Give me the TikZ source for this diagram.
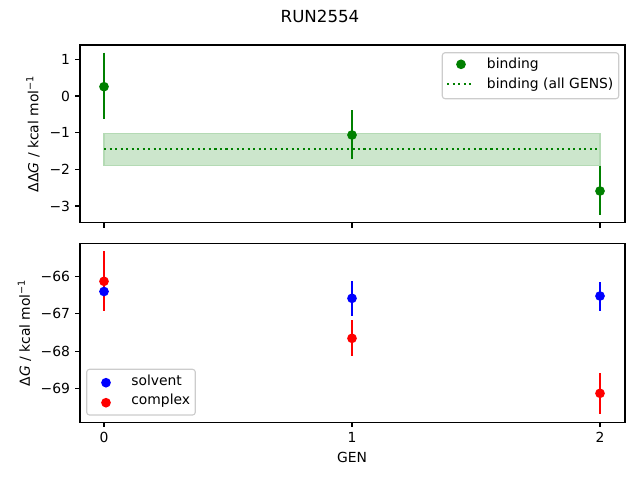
\documentclass[tikz,border=0pt]{standalone}
\usepackage{fontspec}
\setmainfont{DejaVu Sans}
\newfontfamily\dvo{DejaVu Sans Oblique}
\definecolor{mgreen}{RGB}{0,128,0}
\definecolor{mblue}{RGB}{0,0,255}
\definecolor{mred}{RGB}{255,0,0}
\definecolor{bandfill}{RGB}{204,230,204}
\definecolor{bandedge}{RGB}{180,218,180}
\definecolor{legedge}{RGB}{204,204,204}
\tikzset{
  axisframe/.style={draw=black, line width=0.8pt},
  tickmark/.style={draw=black, line width=0.8pt},
  ebar/.style={line width=1.5pt},
  mk/.style={radius=3.5pt},
  legbox/.style={draw=legedge, line width=0.8pt, fill=white, fill opacity=0.8, rounded corners=2pt},
  ylab/.style={anchor=east, inner sep=0pt, font=\fontsize{10}{12}\selectfont},
  xlab/.style={anchor=north, inner sep=0pt, font=\fontsize{10}{12}\selectfont},
  txt/.style={inner sep=0pt, font=\fontsize{10}{12}\selectfont},
}
\begin{document}
\begin{tikzpicture}[x=0.72pt, y=-0.72pt]
\useasboundingbox (0,0) rectangle (640,480);
% title
\node[txt, font=\fontsize{12}{14}\selectfont] (title) at (320,16) {RUN2554};

% ---------------- top panel ----------------
\fill[bandfill] (104,133.7) rectangle (600,165.7);
\draw[bandedge, line width=0.8pt] (104,133.7) rectangle (600,165.7);
\draw[mgreen, line width=1.5pt, dash pattern=on 1.5pt off 2.475pt] (104,148.7) -- (600,148.7);
\draw[mgreen, ebar] (104,52.7) -- (104,118.7);
\draw[mgreen, ebar] (352,110) -- (352,158.7);
\draw[mgreen, ebar] (600,165.7) -- (600,215);
\fill[mgreen] (104,86.7) circle[mk];
\fill[mgreen] (352,135) circle[mk];
\fill[mgreen] (600,191) circle[mk];
\draw[axisframe] (80,45) rectangle (625,222.7);
\foreach \v/\lab [count=\i] in {1/1,0/0,-1/{−1},-2/{−2},-3/{−3}}{
  \draw[tickmark] (80,{96-36.68*\v}) -- ++(-4.86,0);
  \node[ylab] (ytt\i) at (70.3,{96-36.68*\v}) {\lab};
}
\foreach \x in {104,352,600}{
  \draw[tickmark] (\x,222.7) -- ++(0,4.86);
}
\node[txt, rotate=90] (ylabtop) at (33,133.8) {ΔΔ{\dvo G} / kcal mol\textsuperscript{−1}};
% top legend
\draw[legbox] (442.3,52.7) rectangle (618.7,98.7);
\fill[mgreen] (461,64.3) circle[mk];
\draw[mgreen, line width=1.5pt, dash pattern=on 1.5pt off 2.475pt] (447.3,84.3) -- (472,84.3);
\node[txt, anchor=west] (legb1) at (486.7,64.3) {binding};
\node[txt, anchor=west] (legb2) at (486.7,84.3) {binding (all GENS)};

% ---------------- bottom panel ----------------
\draw[mblue, ebar] (104,276) -- (104,307);
\draw[mblue, ebar] (352,281) -- (352,315.7);
\draw[mblue, ebar] (600,282) -- (600,310.7);
\draw[mred, ebar] (104,251) -- (104,310.7);
\draw[mred, ebar] (352,320) -- (352,356);
\draw[mred, ebar] (600,373.3) -- (600,414);
\fill[mblue] (104,291.5) circle[mk];
\fill[mblue] (352,298.3) circle[mk];
\fill[mblue] (600,296) circle[mk];
\fill[mred] (104,281.3) circle[mk];
\fill[mred] (352,338.3) circle[mk];
\fill[mred] (600,393.3) circle[mk];
\draw[axisframe] (80,243.3) rectangle (625,422.3);
\foreach \v/\lab [count=\i] in {-66/{−66},-67/{−67},-68/{−68},-69/{−69}}{
  \draw[tickmark] (80,{276.7+37.2*(-66-\v)}) -- ++(-4.86,0);
  \node[ylab] (ytb\i) at (70.3,{276.7+37.2*(-66-\v)}) {\lab};
}
\foreach \x/\lab [count=\i] in {104/0,352/1,600/2}{
  \draw[tickmark] (\x,422.3) -- ++(0,4.86);
  \node[xlab] (xt\i) at (\x,432) {\lab};
}
\node[txt] (xlabel) at (352,457.3) {GEN};
\node[txt, rotate=90] (ylabbot) at (24.5,332.8) {Δ{\dvo G} / kcal mol\textsuperscript{−1}};
% bottom legend
\draw[legbox] (86.7,369.3) rectangle (195.3,415);
\fill[mblue] (106,382.7) circle[mk];
\fill[mred] (106,402.7) circle[mk];
\node[txt, anchor=west] (legs1) at (131,380.5) {solvent};
\node[txt, anchor=west] (legs2) at (131,400.5) {complex};
\end{tikzpicture}
\end{document}
